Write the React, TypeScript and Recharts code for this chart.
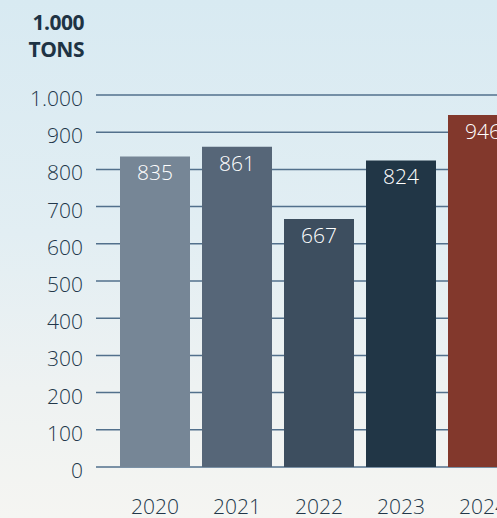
import React from "react";
import { BarChart, Bar, XAxis, YAxis, CartesianGrid, Cell, LabelList } from "recharts";

const years = ["2020", "2021", "2022", "2023", "2024"];
const tons = [835, 861, 667, 824, 946];
const yTicks = [0, 100, 200, 300, 400, 500, 600, 700, 800, 900, 1000];

const barColors = ["#768696", "#566678", "#3d4e5f", "#213646", "#82382c"];
const font = "'Open Sans', sans-serif";
const textColor = "#22374a";

const data = years.map((year, i) => ({ year, value: tons[i] }));

const fmt = (v: number) => v.toLocaleString("de-DE");

const YTick = ({ x, y, payload }: any) => (
  <text
    x={x}
    y={y}
    dy={11}
    textAnchor="end"
    fontSize={21}
    fontWeight={300}
    fill={textColor}
    fontFamily={font}
  >
    {fmt(payload.value)}
  </text>
);

const App = () => {
  return (
    <div
      style={{
        position: "fixed",
        left: 0,
        top: 0,
        width: 497,
        height: 518,
        overflow: "hidden",
        background: "linear-gradient(180deg, #d8eaf2 0%, #e2eef3 45%, #eef2f2 75%, #f5f5f2 100%)",
      }}
    >
      <div
        style={{
          position: "absolute",
          left: 0,
          top: 9,
          width: 84,
          textAlign: "right",
          fontFamily: font,
          fontWeight: 700,
          fontSize: 21,
          lineHeight: "27px",
          color: "#1e3344",
          letterSpacing: -0.5,
        }}
      >
        1.000
        <br />
        TONS
      </div>
      <BarChart
        width={530}
        height={518}
        data={data}
        margin={{ top: 95, right: 6, bottom: 0, left: 0 }}
      >
        <CartesianGrid vertical={false} stroke="#52708c" strokeWidth={1.5} />
        <XAxis
          dataKey="year"
          axisLine={false}
          tickLine={false}
          tickMargin={26}
          height={51}
          padding={{ left: 18, right: 0 }}
          tick={{ fontSize: 21, fill: textColor, fontFamily: font, fontWeight: 300 }}
          interval={0}
        />
        <YAxis
          width={96}
          domain={[0, 1000]}
          ticks={yTicks}
          axisLine={false}
          tickLine={false}
          tickMargin={7}
          tick={<YTick />}
          interval={0}
        />
        <Bar dataKey="value" barSize={70} isAnimationActive={false}>
          {data.map((d, i) => (
            <Cell key={d.year} fill={barColors[i]} />
          ))}
          <LabelList
            dataKey="value"
            position="insideTop"
            offset={9}
            fill="#ffffff"
            fontSize={21}
            fontWeight={300}
            fontFamily={font}
          />
        </Bar>
      </BarChart>
    </div>
  );
};

export default App;
